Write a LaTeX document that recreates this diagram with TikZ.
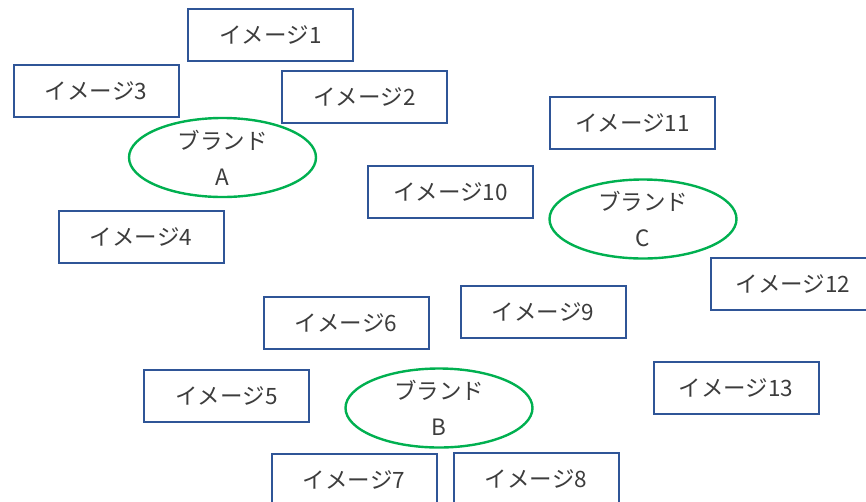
\documentclass[tikz,border=0pt]{standalone}
\usepackage{fontspec}
\setmainfont{Noto Sans CJK JP}
\usetikzlibrary{shapes.geometric}
\definecolor{boxblue}{RGB}{47,85,151}
\definecolor{brandgreen}{RGB}{0,176,80}
\definecolor{txtgray}{RGB}{60,60,60}
\begin{document}
\begin{tikzpicture}[x=1pt,y=-1pt,
  imgbox/.style={draw=boxblue,line width=2pt,rectangle,minimum width=165pt,minimum height=52pt,inner sep=0pt,
    text=txtgray,font=\fontsize{22.5}{27}\selectfont},
  brand/.style={draw=brandgreen,line width=2.4pt,ellipse,minimum width=187pt,minimum height=79pt,inner sep=0pt,
    text=txtgray,align=center,font=\fontsize{22.5}{36}\selectfont}]
\useasboundingbox (0,0) rectangle (866,501);
\clip (0,0) rectangle (866,501);
\node[imgbox] (i1) at (270.5,35) {イメージ1};
\node[imgbox] (i3) at (96,91) {イメージ3};
\node[imgbox] (i2) at (364.5,97) {イメージ2};
\node[imgbox] (i11) at (632.5,122.5) {イメージ11};
\node[imgbox] (i10) at (450.5,192) {イメージ10};
\node[imgbox] (i4) at (141,237) {イメージ4};
\node[imgbox] (i12) at (793,284) {イメージ12};
\node[imgbox] (i6) at (346,322.5) {イメージ6};
\node[imgbox] (i9) at (543,311.5) {イメージ9};
\node[imgbox] (i5) at (226.5,395.5) {イメージ5};
\node[imgbox] (i13) at (736,388) {イメージ13};
\node[imgbox] (i7) at (354,480) {イメージ7};
\node[imgbox] (i8) at (536,478.5) {イメージ8};
\node[brand] (bA) at (222.5,157.5) {ブランド\\A};
\node[brand] (bC) at (643,219) {ブランド\\C};
\node[brand] (bB) at (439,408) {ブランド\\B};
\end{tikzpicture}
\end{document}
